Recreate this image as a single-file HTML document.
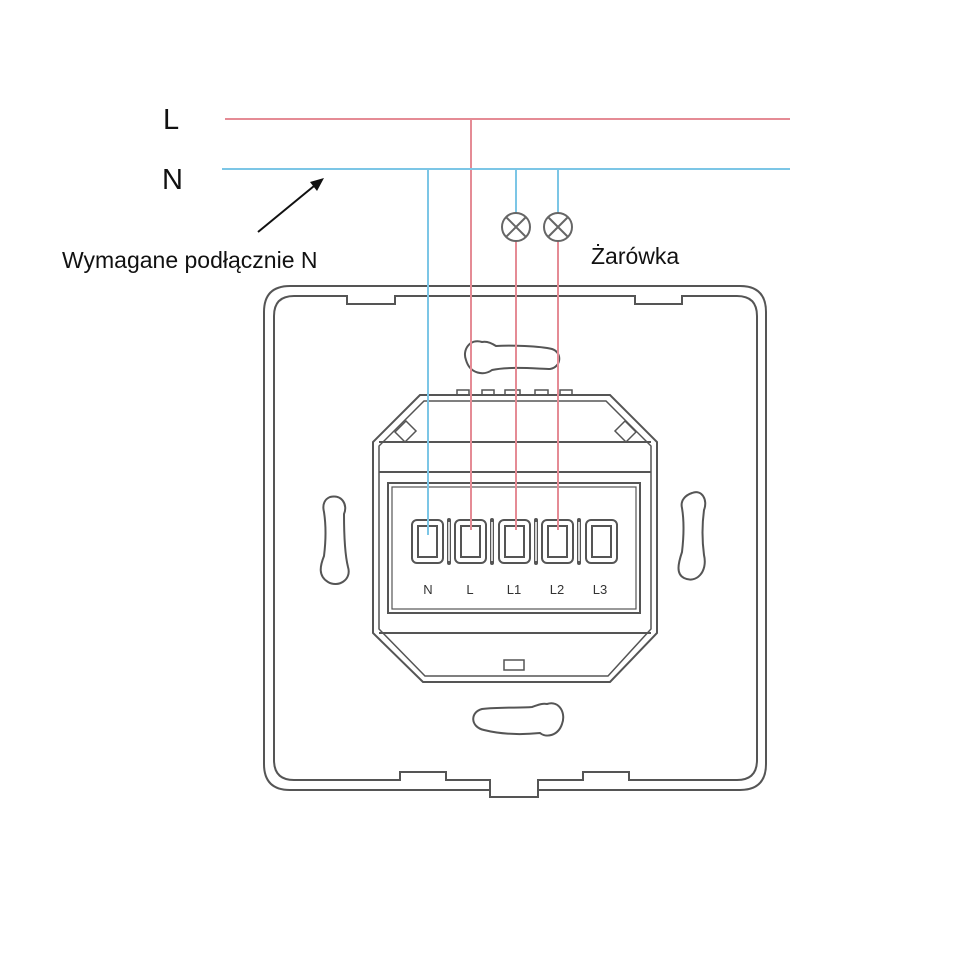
<!DOCTYPE html>
<html><head><meta charset="utf-8"><style>
body{margin:0;background:#fff;}
svg{display:block;}
text{font-family:"Liberation Sans",sans-serif;}
</style></head><body>
<svg width="960" height="960" viewBox="0 0 960 960" xmlns="http://www.w3.org/2000/svg">
<g fill="none" stroke="#555" stroke-width="2">
<!-- plate outer -->
<path d="M290,286 H740 Q766,286 766,312 V764 Q766,790 740,790 H538 V797 H490 V790 H290 Q264,790 264,764 V312 Q264,286 290,286 Z"/>
<!-- plate inner -->
<path d="M490,790 V780 H446 V772 H400 V780 H294 Q274,780 274,760 V316 Q274,296 294,296 H347 V304 H395 V296 H635 V304 H682 V296 H737 Q757,296 757,316 V760 Q757,780 737,780 H629 V772 H583 V780 H538 V790"/>
<!-- keyholes -->
<path d="M482,342 C470,338 462,350 466,360 C470,374 484,376 492,370 C510,366 540,369 550,369 C562,367 562,352 552,349 C540,346 510,345 496,346 C490,342 486,341 482,342 Z"/>
<path d="M547,704 C560,700 566,714 562,724 C558,736 546,738 540,733 C520,735 500,734 484,730 C470,727 470,712 482,709 C500,707 520,708 532,707 C538,705 542,703 547,704 Z"/>
<path d="M330,497 C342,494 348,505 344,514 C344,535 345,555 348,567 C352,580 338,588 328,582 C318,576 320,566 324,556 C326,540 326,525 324,512 C322,504 325,499 330,497 Z"/>
<path d="M692,493 C702,489 708,500 704,510 C702,525 702,540 704,555 C708,572 696,584 684,578 C676,574 678,564 682,552 C684,535 684,520 682,508 C680,500 686,495 692,493 Z"/>
<!-- module -->
<path d="M420,395 H610 L657,442 V633 L610,682 H423 L373,633 V442 Z"/>
<path d="M424,401 H606 L651,446 V629 L608,676 H425 L379,629 V446 Z" stroke-width="1.5"/>
<path d="M457,395 V390 H469 V395 M482,395 V390 H494 V395 M505,395 V390 H520 V395 M535,395 V390 H548 V395 M560,395 V390 H572 V395" stroke-width="1.5"/>
<path d="M379,442 H651 M379,472 H651 M379,633 H651"/>
<rect x="388" y="483" width="252" height="130"/>
<rect x="392" y="487" width="244" height="122" stroke-width="1.2"/>
<path d="M395,432 L406,421 L416,431 L405,442 Z M636,432 L625,421 L615,431 L626,442 Z" stroke-width="1.5"/>
<rect x="504" y="660" width="20" height="10" stroke-width="1.5"/>
<!-- terminals -->
<rect x="412" y="520" width="31" height="43" rx="5"/><rect x="418" y="526" width="19" height="31"/>
<rect x="455" y="520" width="31" height="43" rx="5"/><rect x="461" y="526" width="19" height="31"/>
<rect x="499" y="520" width="31" height="43" rx="5"/><rect x="505" y="526" width="19" height="31"/>
<rect x="542" y="520" width="31" height="43" rx="5"/><rect x="548" y="526" width="19" height="31"/>
<rect x="586" y="520" width="31" height="43" rx="5"/><rect x="592" y="526" width="19" height="31"/>
<path d="M449,520 V563 M492,520 V563 M536,520 V563 M579,520 V563" stroke-width="4" stroke-linecap="round"/>
<path d="M449,522 V561 M492,522 V561 M536,522 V561 M579,522 V561" stroke="#fff" stroke-width="1.5"/>
</g>
<g font-size="13" fill="#333" text-anchor="middle">
<text x="428" y="594">N</text><text x="470" y="594">L</text><text x="514" y="594">L1</text><text x="557" y="594">L2</text><text x="600" y="594">L3</text>
</g>
<!-- wires -->
<g stroke-width="2" fill="none">
<path d="M225,119 H790 M471,119 V530 M516,241 V530 M558,241 V530" stroke="#e58b95"/>
<path d="M222,169 H790 M428,169 V535 M516,169 V213 M558,169 V213" stroke="#7cc6e6"/>
</g>
<!-- lamps -->
<g stroke="#666" stroke-width="2" fill="#fff">
<circle cx="516" cy="227" r="14"/><circle cx="558" cy="227" r="14"/>
<path d="M506,217 L526,237 M526,217 L506,237 M548,217 L568,237 M568,217 L548,237"/>
</g>
<!-- arrow -->
<line x1="258" y1="232" x2="314" y2="186" stroke="#111" stroke-width="2"/>
<path d="M324,178 L310,182 L317,191 Z" fill="#111"/>
<g fill="#111">
<text x="163" y="129" font-size="29">L</text>
<text x="162" y="189" font-size="29">N</text>
<text x="62" y="268" font-size="23">Wymagane podłącznie N</text>
<text x="591" y="264" font-size="23">Żarówka</text>
</g>
</svg>
</body></html>
